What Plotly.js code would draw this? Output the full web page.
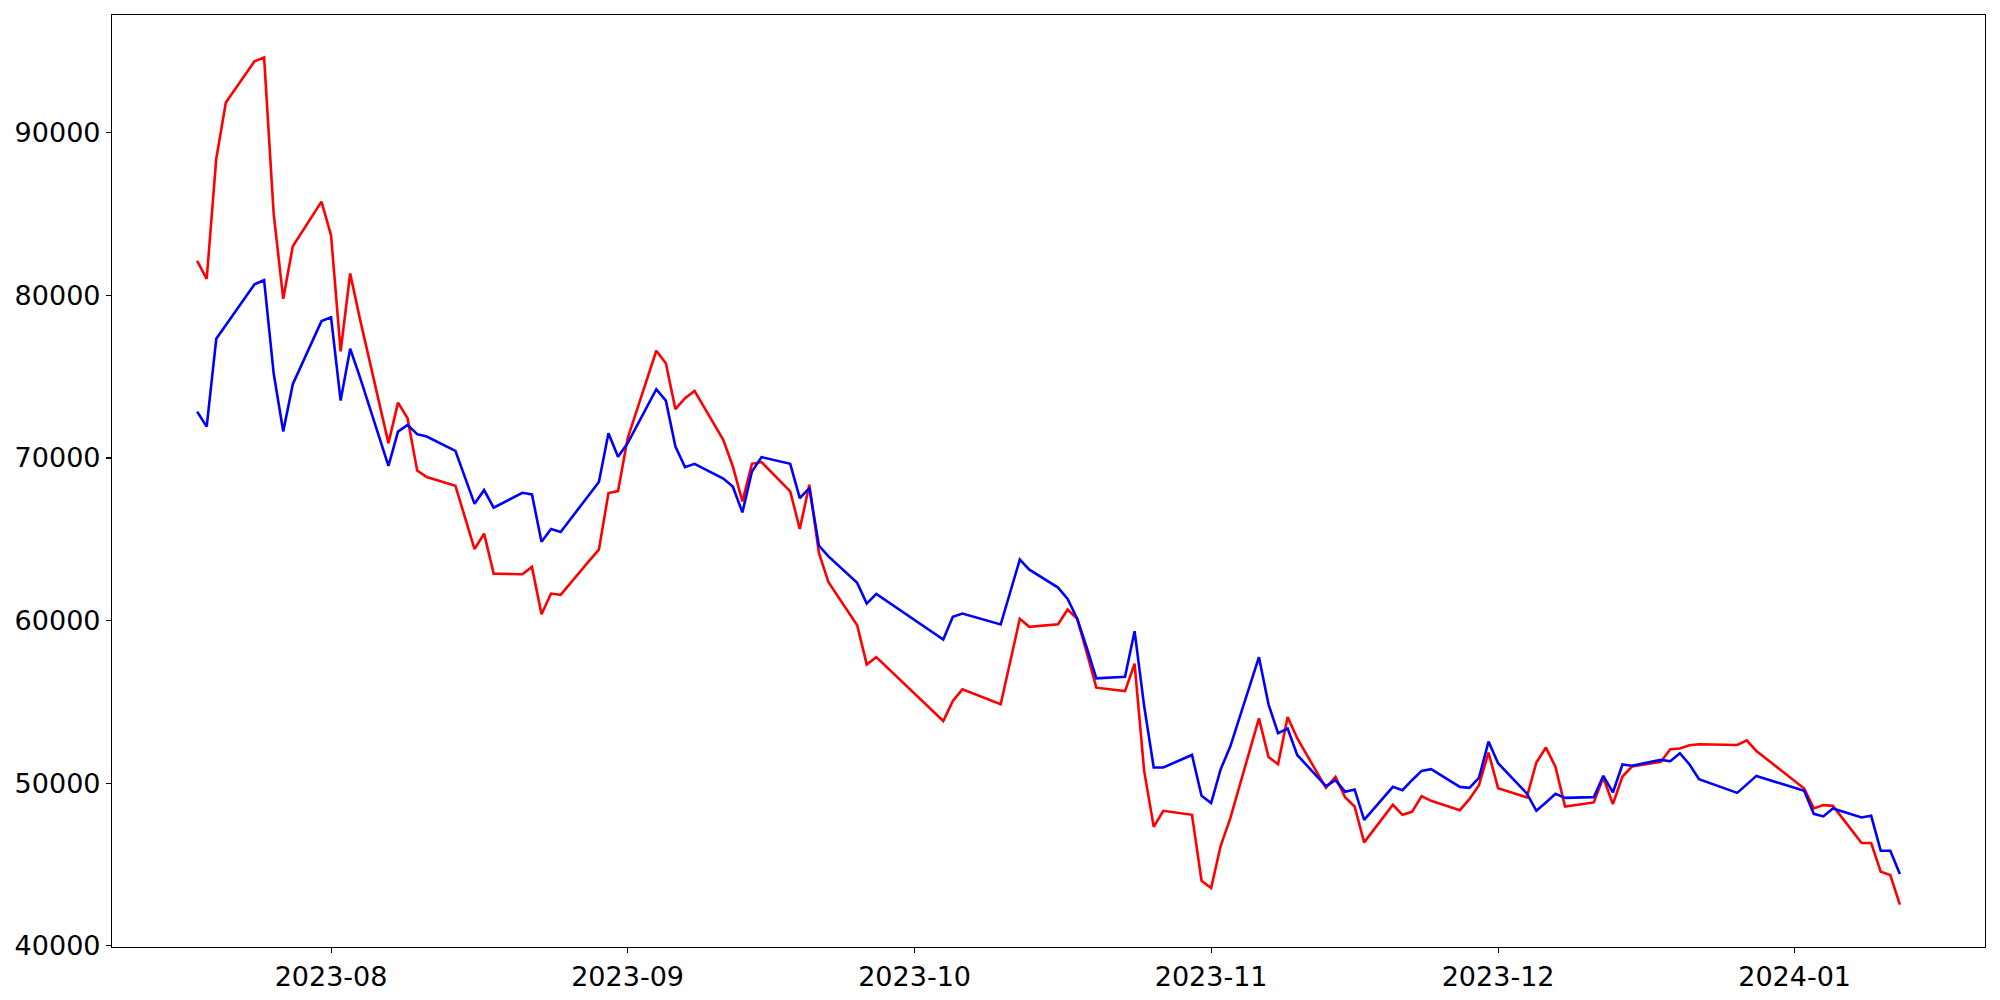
<!DOCTYPE html>
<html>
<head>
<meta charset="utf-8">
<script src="https://cdn.plot.ly/plotly-3.0.1.min.js"></script>
<style>html,body{margin:0;padding:0;background:#fff;}#chart{width:2000px;height:1000px;}</style>
</head>
<body>
<div id="chart"></div>
<script>
// Trading dates
const dates = [
  "2023-07-18","2023-07-19","2023-07-20","2023-07-21","2023-07-24","2023-07-25","2023-07-26","2023-07-27","2023-07-28","2023-07-31",
  "2023-08-01","2023-08-02","2023-08-03","2023-08-04","2023-08-07","2023-08-08","2023-08-09","2023-08-10","2023-08-11","2023-08-14",
  "2023-08-16","2023-08-17","2023-08-18","2023-08-21","2023-08-22","2023-08-23","2023-08-24","2023-08-25","2023-08-28","2023-08-29","2023-08-30","2023-08-31",
  "2023-09-01","2023-09-04","2023-09-05","2023-09-06","2023-09-07","2023-09-08","2023-09-11","2023-09-12","2023-09-13","2023-09-14","2023-09-15",
  "2023-09-18","2023-09-19","2023-09-20","2023-09-21","2023-09-22","2023-09-25","2023-09-26","2023-09-27",
  "2023-10-04","2023-10-05","2023-10-06","2023-10-10","2023-10-11","2023-10-12","2023-10-13","2023-10-16","2023-10-17","2023-10-18","2023-10-19","2023-10-20",
  "2023-10-23","2023-10-24","2023-10-25","2023-10-26","2023-10-27","2023-10-30","2023-10-31",
  "2023-11-01","2023-11-02","2023-11-03","2023-11-06","2023-11-07","2023-11-08","2023-11-09","2023-11-10","2023-11-13","2023-11-14","2023-11-15","2023-11-16","2023-11-17",
  "2023-11-20","2023-11-21","2023-11-22","2023-11-23","2023-11-24","2023-11-27","2023-11-28","2023-11-29","2023-11-30",
  "2023-12-01","2023-12-04","2023-12-05","2023-12-06","2023-12-07","2023-12-08","2023-12-11","2023-12-12","2023-12-13","2023-12-14","2023-12-15",
  "2023-12-18","2023-12-19","2023-12-20","2023-12-21","2023-12-22","2023-12-26","2023-12-27","2023-12-28",
  "2024-01-02","2024-01-03","2024-01-04","2024-01-05","2024-01-08","2024-01-09","2024-01-10","2024-01-11","2024-01-12"
];

// Red series
const redValues = [
  82118, 81013, 88402, 91858, 94392, 94638, 85027, 79786, 83020, 85764,
  83695, 76558, 81345, 78600, 70912, 73404, 72446, 69231, 68825, 68292,
  64400, 65346, 62891, 62848, 63302, 60393, 61664, 61584, 63689, 64364, 67843, 67966,
  71200, 76595, 75822, 72999, 73674, 74122, 71115, 69476, 67328, 69642, 69750,
  67942, 65634, 68353, 64161, 62357, 59718, 57306, 57754,
  53827, 55054, 55772, 54852, 57472, 60111, 59620, 59780, 60682, 60111, 58024, 55876,
  55668, 57349, 50758, 47321, 48303, 48058, 44007,
  43559, 46155, 47837, 53992, 51617, 51169, 54072, 52765, 49715, 50390, 49140, 48573, 46364,
  48672, 48058, 48242, 49206, 48917, 48346, 49021, 49881, 51887,
  49696, 49126, 51274, 52194, 51004, 48573, 48819, 50353, 48715, 50414, 51028,
  51311, 52090, 52133, 52335, 52397, 52354, 52642, 51985,
  49678, 48451, 48653, 48610, 46321, 46321, 44560, 44357, 42535
];

// Blue series
const blueValues = [
  72852, 71931, 77331, 78172, 80688, 80934, 75208, 71624, 74533, 78418,
  78645, 73527, 76718, 75000, 69519, 71624, 72035, 71464, 71317, 70440,
  67180, 68028, 66941, 67862, 67758, 64855, 65634, 65450, 67770, 68519, 71526, 70071,
  70900, 74226, 73527, 70703, 69439, 69642, 68740, 68249, 66653, 69169, 70053,
  69642, 67537, 68150, 64609, 63953, 62320, 61050, 61645,
  58841, 60233, 60436, 59761, 61768, 63750, 63136, 62030, 61338, 60111, 58331, 56447,
  56551, 59350, 54747, 50967, 50967, 51740, 49224,
  48776, 50862, 52256, 57754, 54852, 53072, 53360, 51740, 49819, 50187, 49480, 49617, 47751,
  49776, 49574, 50187, 50758, 50862, 49776, 49715, 50329, 52562,
  51231, 49371, 48303, 48819, 49347, 49101, 49144, 50451, 49433, 51151, 51080,
  51433, 51353, 51844, 51169, 50249, 49408, 49930, 50451,
  49531, 48119, 47960, 48451, 47898, 47997, 45849, 45849, 44419
];

const yTickVals = [40000, 50000, 60000, 70000, 80000, 90000];
const yTickText = ["40000", "50000", "60000", "70000", "80000", "90000"];

const tickFont = {family: "DejaVu Sans, sans-serif", size: 27, color: "#000"};

const traces = [
  {x: dates, y: redValues, type: "scatter", mode: "lines", line: {color: "red", width: 2.6}, hoverinfo: "x+y"},
  {x: dates, y: blueValues, type: "scatter", mode: "lines", line: {color: "blue", width: 2.6}, hoverinfo: "x+y"}
];

const layout = {
  width: 2000,
  height: 1000,
  margin: {l: 112, r: 15, t: 15, b: 53, pad: 0},
  paper_bgcolor: "#fff",
  plot_bgcolor: "#fff",
  showlegend: false,
  xaxis: {
    type: "date",
    range: ["2023-07-09 02:24", "2024-01-20 21:36"],
    tickformat: "%Y-%m",
    dtick: "M1",
    tick0: "2023-08-01",
    ticks: "outside",
    ticklen: 5,
    tickwidth: 1.1,
    tickcolor: "#000",
    showgrid: false,
    zeroline: false,
    showline: true,
    mirror: true,
    linecolor: "#000",
    linewidth: 1.1,
    tickfont: tickFont,
    automargin: false
  },
  yaxis: {
    range: [39930, 97240],
    tickmode: "array",
    tickvals: yTickVals,
    ticktext: yTickText,
    ticks: "outside",
    ticklen: 5,
    tickwidth: 1.1,
    tickcolor: "#000",
    showgrid: false,
    zeroline: false,
    showline: true,
    mirror: true,
    linecolor: "#000",
    linewidth: 1.1,
    tickfont: tickFont,
    automargin: false
  }
};

Plotly.newPlot("chart", traces, layout, {displayModeBar: false, staticPlot: true});
</script>
</body>
</html>
